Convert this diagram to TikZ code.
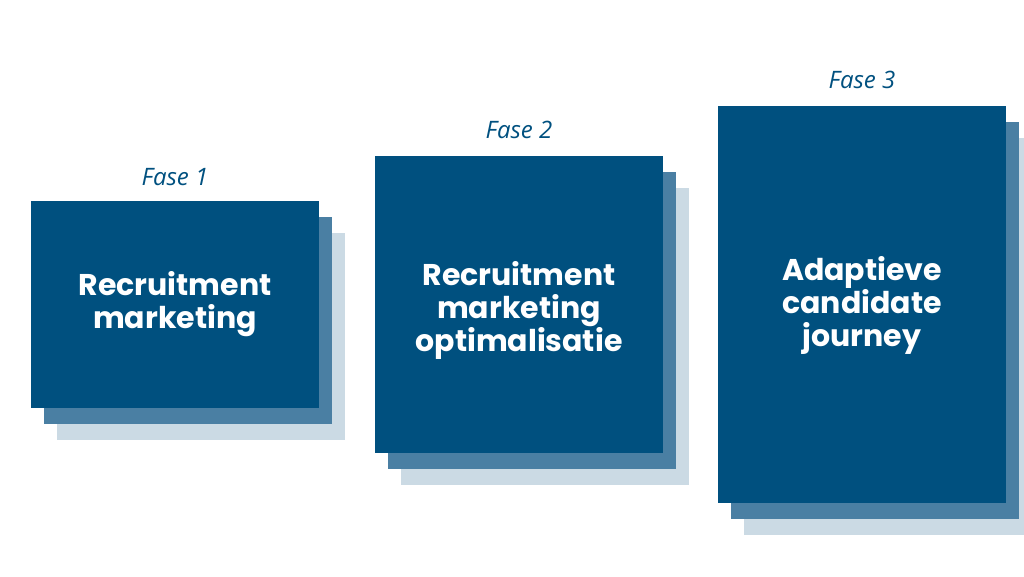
\documentclass[tikz,border=0pt]{standalone}
\usepackage{fontspec}
\setmainfont{Poppins}
\newfontfamily\labfont{Open Sans}
\definecolor{front}{HTML}{00507F}
\definecolor{mid}{HTML}{4A7FA3}
\definecolor{light}{HTML}{CBDAE4}
\begin{document}
\begin{tikzpicture}[x=1pt,y=-1pt,
  frontbox/.style={fill=front,draw=none},
  midbox/.style={fill=mid,draw=none},
  lightbox/.style={fill=light,draw=none},
  boxtext/.style={text=white,font=\fontsize{30}{33}\selectfont\bfseries,align=center},
  fase/.style={text=front,font=\labfont\fontsize{24}{28}\selectfont\itshape}]
\useasboundingbox (0,0) rectangle (1024,576);
% Box 1
\fill[lightbox] (57,233) rectangle (345,440);
\fill[midbox] (44,217) rectangle (332,424);
\fill[frontbox] (31,201) rectangle (319,408);
\node[boxtext] (t1) at (175,304) {Recruitment\\marketing};
\node[fase] (f1) at (175,177) {Fase 1};
% Box 2
\fill[lightbox] (401,188) rectangle (689,485);
\fill[midbox] (388,172) rectangle (676,469);
\fill[frontbox] (375,156) rectangle (663,453);
\node[boxtext] (t2) at (519,310) {Recruitment\\marketing\\optimalisatie};
\node[fase] (f2) at (519,130) {Fase 2};
% Box 3
\fill[lightbox] (744,138) rectangle (1032,535);
\fill[midbox] (731,122) rectangle (1019,519);
\fill[frontbox] (718,106) rectangle (1006,503);
\node[boxtext] (t3) at (862,305) {Adaptieve\\candidate\\journey};
\node[fase] (f3) at (862,80) {Fase 3};
\end{tikzpicture}
\end{document}
